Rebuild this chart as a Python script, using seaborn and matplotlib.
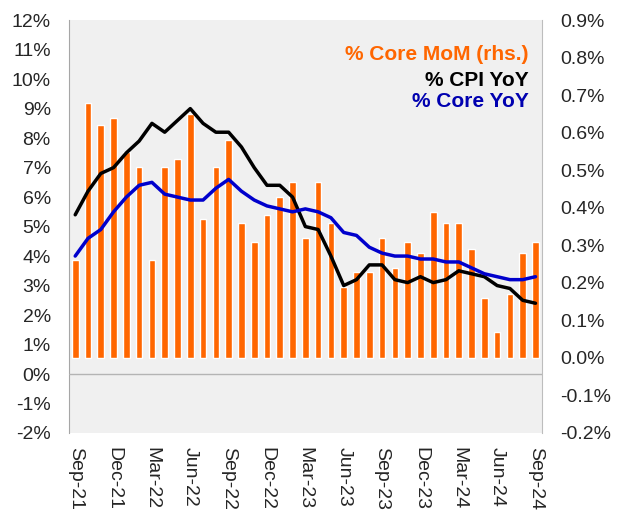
import numpy as np
import pandas as pd
import matplotlib
matplotlib.use("Agg")
import matplotlib.pyplot as plt
import seaborn as sns

# monthly data, Sep-21 .. Sep-24
months = pd.date_range("2021-09-01", "2024-09-01", freq="MS").strftime("%b-%y").tolist()

core_mom = [0.26, 0.68, 0.62, 0.64, 0.55, 0.51, 0.26, 0.51, 0.53, 0.65, 0.37, 0.51, 0.58, 0.36, 0.31,
            0.38, 0.43, 0.47, 0.32, 0.47, 0.36, 0.19, 0.23, 0.23, 0.32, 0.24, 0.31, 0.28, 0.39, 0.36,
            0.36, 0.29, 0.16, 0.07, 0.17, 0.28, 0.31]
cpi_yoy = [5.4, 6.2, 6.8, 7.0, 7.5, 7.9, 8.5, 8.2, 8.6, 9.0, 8.5, 8.2, 8.2, 7.7, 7.0,
           6.4, 6.4, 6.0, 5.0, 4.9, 4.0, 3.0, 3.2, 3.7, 3.7, 3.2, 3.1, 3.3, 3.1, 3.2,
           3.5, 3.4, 3.3, 3.0, 2.9, 2.5, 2.4]
core_yoy = [4.0, 4.6, 4.9, 5.5, 6.0, 6.4, 6.5, 6.1, 6.0, 5.9, 5.9, 6.3, 6.6, 6.2, 5.9,
            5.7, 5.6, 5.5, 5.6, 5.5, 5.3, 4.8, 4.7, 4.3, 4.1, 4.0, 4.0, 3.9, 3.9, 3.8,
            3.8, 3.6, 3.4, 3.3, 3.2, 3.2, 3.3]

left_ticks = list(range(-2, 13))
right_ticks = [round(v * 0.1, 1) for v in range(-2, 10)]

df = pd.DataFrame({"month": months, "core_mom": core_mom,
                   "cpi_yoy": cpi_yoy, "core_yoy": core_yoy})
df["pos"] = np.arange(len(df))

sns.set_style("white")
plt.rcParams["font.family"] = ["Liberation Sans", "DejaVu Sans"]

fig = plt.figure(figsize=(6.2, 5.17), dpi=100)
ax = fig.add_axes([0.111, 0.1625, 0.763, 0.7985])   # bars, right scale
ax.set_facecolor("#f0f0f0")

sns.barplot(x="pos", y="core_mom", data=df, color="#ff6600", saturation=1,
            width=0.52, ax=ax, native_scale=False)

# lines on the left scale, drawn above the bars
ax2 = ax.twinx()
ax2.patch.set_visible(False)
sns.lineplot(x="pos", y="cpi_yoy", data=df, color="black", lw=2.5, ax=ax2)
sns.lineplot(x="pos", y="core_yoy", data=df, color="#0000cc", lw=2.5, ax=ax2)
ax2.axhline(0, color="#b4b4b4", lw=1, zorder=0)

# twinx puts the ticks left/right, swap them
ax.set_ylim(-0.2, 0.9)
ax.set_yticks(right_ticks)
ax.set_yticklabels([f"{v:.1f}%" for v in right_ticks])
ax.yaxis.tick_right()
ax2.set_ylim(-2, 12)
ax2.set_yticks(left_ticks)
ax2.set_yticklabels([f"{v}%" for v in left_ticks])
ax2.yaxis.tick_left()
ax2.set_xlim(-0.5, len(df) - 0.5)

ax.set_xticks(df["pos"][::3])
ax.set_xticklabels(df["month"][::3], rotation=-90)

for a in (ax, ax2):
    a.set_xlabel("")
    a.set_ylabel("")
    a.tick_params(axis="both", length=0, labelsize=14)
    for s in a.spines.values():
        s.set_visible(False)
ax.tick_params(axis="x", pad=10)
ax.tick_params(axis="y", pad=13)
ax2.tick_params(axis="y", pad=13)
ax.spines["left"].set_visible(True)
ax.spines["right"].set_visible(True)
ax.spines["left"].set_color("#a6a6a6")
ax.spines["right"].set_color("#bdbdbd")

fig.text(0.853, 0.894, "% Core MoM (rhs.)", color="#ff6600", fontsize=15,
         fontweight="bold", ha="right", va="center")
fig.text(0.853, 0.845, "% CPI YoY", color="black", fontsize=15,
         fontweight="bold", ha="right", va="center")
fig.text(0.853, 0.804, "% Core YoY", color="#0000b0", fontsize=15,
         fontweight="bold", ha="right", va="center")

fig.savefig("out.png", dpi=100)
